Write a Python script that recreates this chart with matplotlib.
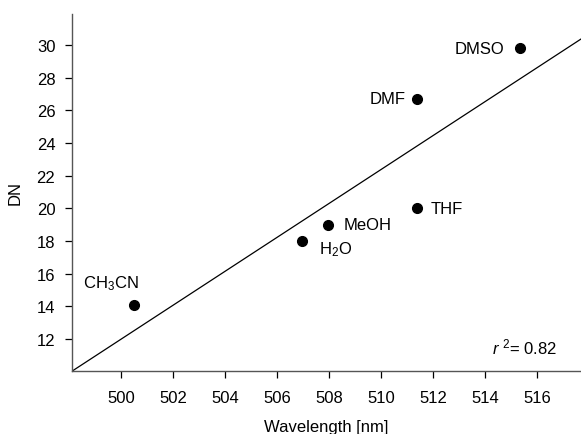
import numpy as np
import matplotlib
matplotlib.use("Agg")
import matplotlib.pyplot as plt

plt.rcParams['font.family'] = ['Liberation Sans', 'DejaVu Sans']
plt.rcParams['mathtext.fontset'] = 'custom'
plt.rcParams['mathtext.rm'] = 'Liberation Sans'
plt.rcParams['mathtext.it'] = 'Liberation Sans:italic'

solvents = ["CH$_3$CN", "H$_2$O", "MeOH", "THF", "DMF", "DMSO"]
wavelength = [500.5, 506.95, 507.95, 511.4, 511.4, 515.35]
dn = [14.1, 18.0, 19.0, 20.0, 26.7, 29.8]
r2_label = "0.82"

# label placement (offset in pixels, alignment)
offsets = [(-23, 22, "center"), (17, -8, "left"), (16, 0, "left"),
           (13, 0, "left"), (-12, 0, "right"), (-16, 0, "right")]

fig = plt.figure(figsize=(5.81, 4.35), dpi=100)
ax = fig.add_axes([72/581, 1 - 372/435, 1 - 72/581, (372 - 15)/435])

ax.plot(wavelength, dn, "ko", ms=7)
for name, x, y, (dx, dy, ha) in zip(solvents, wavelength, dn, offsets):
    ax.annotate(name, (x, y), xytext=(dx, dy), textcoords="offset pixels",
                ha=ha, va="center", fontsize=12)

# linear regression line
a, b = np.polyfit(wavelength, dn, 1)
x_line = np.array([498.1, 517.7])
ax.plot(x_line, a*x_line + b, "k-", lw=0.9)

ax.text(0.953, 0.07, r"$r$ $^2$= " + r2_label, transform=ax.transAxes,
        ha="right", va="center", fontsize=12)

ax.set_xlim(498.1, 517.7)
ax.set_ylim(10.05, 31.9)
ax.set_xticks(np.arange(500, 517, 2))
ax.set_yticks(np.arange(12, 31, 2))
ax.tick_params(direction="out", length=5, width=0.9, labelsize=12)
ax.tick_params(axis="x", pad=9)
ax.tick_params(axis="y", pad=7)
for s in ["top", "right"]:
    ax.spines[s].set_visible(False)
for s in ["left", "bottom"]:
    ax.spines[s].set_color("#555555")
    ax.spines[s].set_linewidth(1.0)

ax.set_xlabel("Wavelength [nm]", fontsize=12, labelpad=10)
ax.set_ylabel("DN", fontsize=12, labelpad=10)

fig.savefig("out.png", dpi=100)
